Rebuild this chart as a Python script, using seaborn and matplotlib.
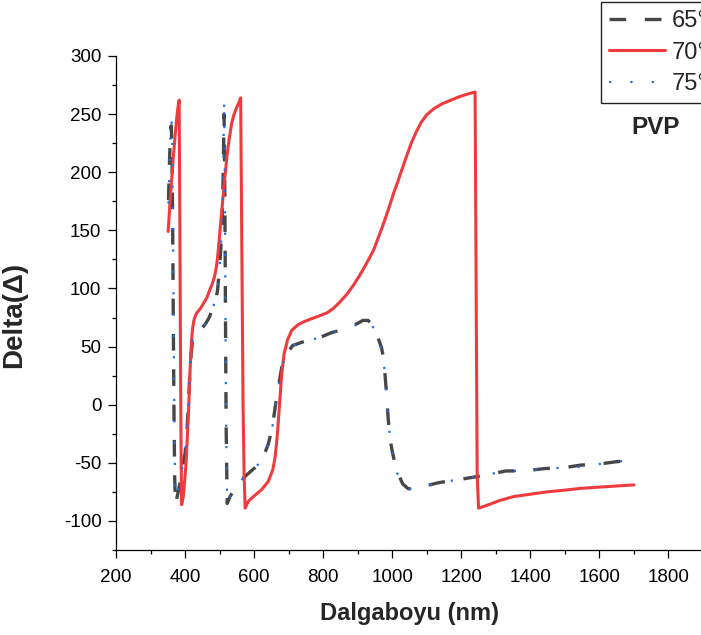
import numpy as np
import pandas as pd
import matplotlib
matplotlib.use("Agg")
import matplotlib.pyplot as plt
import seaborn as sns
from matplotlib.ticker import MultipleLocator

# Wavelength (nm) and ellipsometric Delta for each incidence angle
wl_65 = [352, 355, 358, 360, 362, 364, 366, 368, 370, 372, 378, 385, 393, 400, 405,
         410, 414, 418, 422, 428, 434, 442, 450, 460, 470, 481, 488, 494, 500, 505,
         509, 511, 512, 513, 515, 517, 519, 522, 530, 555, 580, 603, 625, 641, 653,
         662, 672, 680, 690, 700, 712, 722, 741, 760, 780, 800, 824, 843, 870, 900,
         915, 930, 942, 952, 962, 969, 975, 979, 984, 988, 994, 1000, 1006, 1018,
         1030, 1045, 1060, 1080, 1136, 1202, 1262, 1329, 1382, 1440, 1502, 1545,
         1600, 1650, 1700]
delta_65 = [176, 210, 236, 240, 222, 160, 70, -10, -62, -86, -78, -68, -53, -42, -25,
            2, 28, 45, 56, 58, 58.5, 62, 66, 70, 75, 84, 90, 98, 118, 142,
            175, 208, 232, 250, 190, 80, -20, -85, -79, -67, -60, -54, -46, -34, -19,
            0, 18, 32, 41, 46, 51, 52, 54, 55.5, 57, 59, 62, 63.5, 66, 70,
            72.5, 72.5, 69, 63, 55, 49, 40, 26, 8, -11, -30, -40, -48, -60,
            -68, -72, -73, -71, -67, -64, -61, -57, -57, -55, -54, -52,
            -51, -49, -48]

wl_70 = [351, 356, 361, 366, 371, 377, 380, 383, 385, 387, 388.5, 390, 395, 403,
         410, 414.5, 419, 422, 426, 430, 434, 445, 453, 463, 472, 480, 486, 491,
         496, 503, 511, 521, 528, 535, 542, 550, 556, 561, 564, 568, 571, 574,
         583.5, 598, 622, 641, 654, 661, 667.5, 673, 680, 687, 697, 709, 728, 745,
         762, 785, 811, 830, 849, 870, 888, 905, 917, 930, 946, 960, 975, 990,
         1004, 1018, 1030, 1043, 1055, 1070, 1084, 1100, 1122, 1145, 1170, 1190,
         1215, 1240, 1243, 1246, 1250, 1265, 1284, 1310, 1352, 1400, 1448, 1500,
         1545, 1620, 1700]
delta_70 = [149, 172, 193, 213, 231, 250, 257, 262, 150, 30, -40, -86, -79, -50,
            -7, 30, 56, 66, 73, 76.5, 79, 83, 87, 92, 99, 105, 111, 119,
            132, 156, 182, 213, 229, 242, 250, 256, 260, 264, 150, 0, -60, -89,
            -83, -79, -73, -66, -56, -45, -25, -2, 27, 44, 56, 64, 69, 71.5,
            73.5, 76, 79, 83, 88.5, 95.5, 103, 111, 117, 124, 133, 144, 156, 169,
            182, 193.5, 204, 215, 225, 235, 243, 249.5, 255, 259, 262, 264.5,
            267, 269, 100, -60, -89, -87.5, -85.5, -82.5, -79, -77, -75, -73.5,
            -72, -70.5, -69]

wl_75 = [352, 355, 358, 361, 363, 365, 367, 369, 371, 373, 381, 387, 393, 400, 405,
         410, 414, 418, 422, 428, 434, 442, 450, 460, 470, 481, 488, 494, 500, 505,
         509, 511, 512, 513, 515, 517, 519, 522, 530, 555, 580, 603, 625, 641, 653,
         662, 672, 680, 690, 700, 712, 722, 741, 760, 780, 800, 824, 843, 870, 900,
         915, 930, 942, 952, 962, 969, 975, 979, 984, 988, 994, 1000, 1006, 1018,
         1030, 1045, 1060, 1080, 1136, 1202, 1262, 1329, 1382, 1440, 1502, 1565,
         1637, 1700]
delta_75 = [173, 208, 234, 245, 225, 160, 70, -10, -60, -80, -71, -62, -53, -42, -25,
            2, 28, 45, 56, 58, 58.5, 62, 66, 70, 75, 84, 90, 98, 118, 142,
            175, 210, 240, 263, 200, 80, -20, -85, -79, -67, -60, -54.7, -46, -34, -19,
            0, 18, 32, 41, 46, 51, 52, 54, 55.5, 57, 59, 62, 63.5, 66, 69,
            72, 71.5, 68, 62, 54, 47, 38, 26, 8, -11, -30, -40, -48, -63,
            -69, -72, -73, -71, -67, -64, -61, -57, -57, -55, -54, -53,
            -49, -48]

labels = ["65°", "70°", "75°"]

sns.set_style("ticks")
plt.rcParams["font.family"] = ["Liberation Sans", "DejaVu Sans"]
plt.rcParams["axes.linewidth"] = 0.9
plt.rcParams["axes.unicode_minus"] = False

fig = plt.figure(figsize=(7.01, 6.35), dpi=100)
ax = fig.add_axes([116 / 701, 85 / 635, 587 / 701, 494 / 635])

frames = [
    pd.DataFrame({"wl": wl_65, "delta": delta_65}),
    pd.DataFrame({"wl": wl_70, "delta": delta_70}),
    pd.DataFrame({"wl": wl_75, "delta": delta_75}),
]
styles = [
    dict(color="#474747", lw=2.4, ls=(0, (5.0, 5.6))),
    dict(color="#EF3B3D", lw=2.2, ls="-"),
    dict(color="#1F6FE5", lw=1.6, ls=(0, (1.0, 8.6))),
]

for df, lab, st in zip(frames, labels, styles):
    sns.lineplot(data=df, x="wl", y="delta", ax=ax, estimator=None, sort=False,
                 color=st["color"], linewidth=st["lw"], linestyle=st["ls"],
                 label=lab)

ax.set_xlim(200, 1900)
ax.set_ylim(-125, 300)
ax.xaxis.set_major_locator(MultipleLocator(200))
ax.xaxis.set_minor_locator(MultipleLocator(100))
ax.yaxis.set_major_locator(MultipleLocator(50))
ax.yaxis.set_minor_locator(MultipleLocator(25))
ax.tick_params(which="major", direction="out", length=5.5, width=0.9,
               labelsize=13.5, color="black", labelcolor="black")
ax.tick_params(which="minor", direction="out", length=3.2, width=0.9, color="black")
ax.tick_params(axis="x", which="major", pad=8)
ax.tick_params(axis="y", which="major", pad=5)
for side in ("top", "right"):
    ax.spines[side].set_visible(False)
for side in ("left", "bottom"):
    ax.spines[side].set_color("black")

ax.set_xlabel("Dalgaboyu (nm)", fontsize=17, fontweight="bold", labelpad=12)
ax.set_ylabel("Delta(Δ)", fontsize=20, fontweight="bold")
ax.yaxis.set_label_coords(-0.152, 0.476)

handles, labs = ax.get_legend_handles_labels()
ax.legend_.remove()
leg = fig.legend(handles, labs, loc="upper left",
                 bbox_to_anchor=(601 / 701, 1 - 2 / 635),
                 bbox_transform=fig.transFigure, borderaxespad=0,
                 fontsize=17, frameon=True, fancybox=False,
                 borderpad=0.35, labelspacing=0.4, handlelength=2.35,
                 handletextpad=0.3)
leg.get_frame().set_edgecolor("#222222")
leg.get_frame().set_linewidth(1.0)
leg.get_frame().set_alpha(1)

fig.text(656 / 701, 1 - 128 / 635, "PVP", ha="center", va="center",
         fontsize=17.5, fontweight="bold")

fig.savefig("out.png", dpi=100)
